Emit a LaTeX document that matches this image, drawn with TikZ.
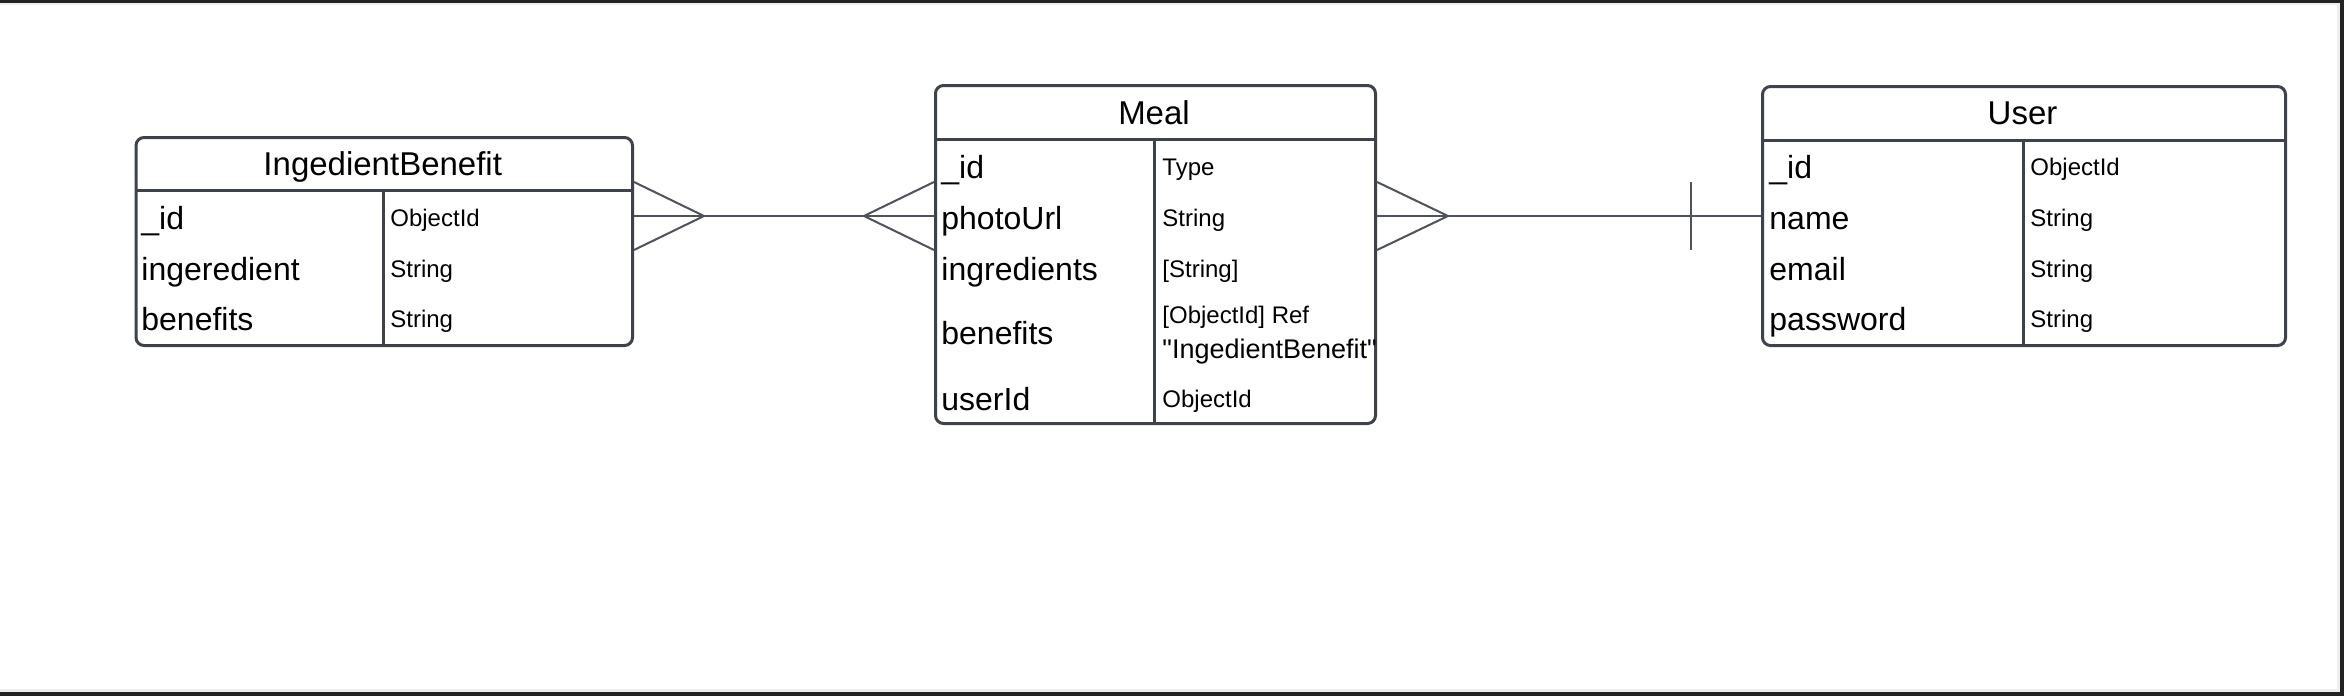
\documentclass[tikz,border=0pt]{standalone}
\usepackage{fontspec}
\setmainfont{Liberation Sans}
\definecolor{boxc}{RGB}{62,66,74}
\definecolor{linec}{RGB}{78,82,90}
\definecolor{framec}{RGB}{34,34,34}
\definecolor{edgec}{RGB}{238,238,238}
\tikzset{
  tbl/.style={draw=boxc, line width=1.5pt, rounded corners=4pt, inner sep=0pt, anchor=north west},
  sep/.style={draw=boxc, line width=1.5pt},
  title/.style={inner sep=0pt, anchor=base, font=\fontsize{16.5pt}{18pt}\selectfont},
  fname/.style={inner sep=0pt, anchor=base west, font=\fontsize{16pt}{18pt}\selectfont},
  ftype/.style={inner sep=0pt, anchor=base west, font=\fontsize{12pt}{14pt}\selectfont},
  ftypebig/.style={inner sep=0pt, anchor=base west, font=\fontsize{13.5pt}{15pt}\selectfont},
  rel/.style={draw=linec, line width=1pt},
}
\begin{document}
\begin{tikzpicture}[x=0.5pt, y=-0.5pt]
\useasboundingbox (0,0) rectangle (2344,696);
% screenshot frame
\fill[edgec] (0,2) rectangle (2340,5);
\fill[edgec] (2337,5) rectangle (2340,692);
\fill[edgec] (0,689) rectangle (2340,692);
\fill[framec] (0,0) rectangle (2344,2.5);
\fill[framec] (2340,0) rectangle (2344,696);
\fill[framec] (0,692) rectangle (2344,696);

% ---- IngedientBenefit ----
\node[tbl, minimum width=248.25pt, minimum height=104pt] (ib) at (134.5,136) {};
\draw[sep] (134.5,190) -- (631,190);
\draw[sep] (383,190) -- (383,344);
\node[title] (ibt) at (382.75,175) {IngedientBenefit};
\node[fname] (ibn1) at (141,229) {\_id};
\node[fname] (ibn2) at (141,280) {ingeredient};
\node[fname] (ibn3) at (141,330) {benefits};
\node[ftype] (ibt1) at (390,226) {ObjectId};
\node[ftype] (ibt2) at (390,277) {String};
\node[ftype] (ibt3) at (390,327) {String};

% ---- Meal ----
\node[tbl, minimum width=220pt, minimum height=169pt] (meal) at (934,84) {};
\draw[sep] (934,139) -- (1374,139);
\draw[sep] (1154,139) -- (1154,422);
\node[title] (mt) at (1154,124) {Meal};
\node[fname] (mn1) at (941,178) {\_id};
\node[fname] (mn2) at (941,229) {photoUrl};
\node[fname] (mn3) at (941,280) {ingredients};
\node[fname] (mn4) at (941,344) {benefits};
\node[fname] (mn5) at (941,410) {userId};
\node[ftype] (mt1) at (1162,175) {Type};
\node[ftype] (mt2) at (1162,226) {String};
\node[ftype] (mt3) at (1162,277) {[String]};
\node[ftype] (mt4a) at (1162,323) {[ObjectId] Ref};
\node[ftypebig] (mt4b) at (1162,358.5) {\textquotedbl IngedientBenefit\textquotedbl};
\node[ftype] (mt5) at (1162,407) {ObjectId};

% ---- User ----
\node[tbl, minimum width=261.5pt, minimum height=129.5pt] (user) at (1761,85) {};
\draw[sep] (1761,140) -- (2284,140);
\draw[sep] (2023,140) -- (2023,344);
\node[title] (ut) at (2022.5,124) {User};
\node[fname] (un1) at (1769,178) {\_id};
\node[fname] (un2) at (1769,229) {name};
\node[fname] (un3) at (1769,280) {email};
\node[fname] (un4) at (1769,330) {password};
\node[ftype] (ut1) at (2030,175) {ObjectId};
\node[ftype] (ut2) at (2030,226) {String};
\node[ftype] (ut3) at (2030,277) {String};
\node[ftype] (ut4) at (2030,327) {String};

% ---- connectors ----
\coordinate (ibR) at (ib.east |- 0,216);
\coordinate (mL) at (meal.west |- 0,216);
\coordinate (mR) at (meal.east |- 0,216);
\coordinate (uL) at (user.west |- 0,216);
% IngedientBenefit -- Meal (many to many)
\draw[rel] (ibR) -- (mL);
\draw[rel] ([yshift=17pt]ibR) -- ([xshift=35pt]ibR) -- ([yshift=-17pt]ibR);
\draw[rel] ([yshift=17pt]mL) -- ([xshift=-35pt]mL) -- ([yshift=-17pt]mL);
% Meal -- User (many to one)
\draw[rel] (mR) -- (uL);
\draw[rel] ([yshift=17pt]mR) -- ([xshift=35.5pt]mR) -- ([yshift=-17pt]mR);
\draw[rel] ([xshift=-35pt,yshift=17pt]uL) -- ([xshift=-35pt,yshift=-17pt]uL);
\end{tikzpicture}
\end{document}
